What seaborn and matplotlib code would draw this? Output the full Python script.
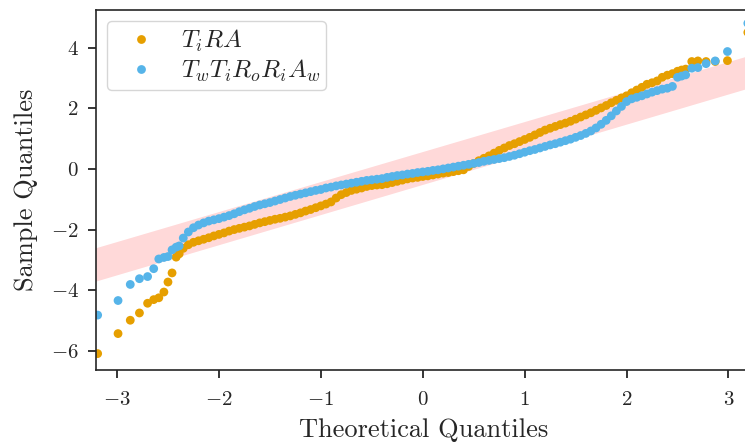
import numpy as np
import pandas as pd
import matplotlib
matplotlib.use("Agg")
import matplotlib.pyplot as plt
import seaborn as sns

# theoretical quantiles (x), shared by both models
theoretical = [
    -3.19, -2.99, -2.87, -2.78, -2.70, -2.64, -2.59, -2.54, -2.50, -2.46, -2.42, -2.39,
    -2.35, -2.30, -2.25, -2.20, -2.15, -2.10, -2.05, -2.00, -1.95, -1.90,
    -1.85, -1.80, -1.75, -1.70, -1.65, -1.60, -1.55, -1.50, -1.45, -1.40,
    -1.35, -1.30, -1.25, -1.20, -1.15, -1.10, -1.05, -1.00, -0.95, -0.90,
    -0.85, -0.80, -0.75, -0.70, -0.65, -0.60, -0.55, -0.50, -0.45, -0.40,
    -0.35, -0.30, -0.25, -0.20, -0.15, -0.10, -0.05, 0.00, 0.05, 0.10,
    0.15, 0.20, 0.25, 0.30, 0.35, 0.40, 0.45, 0.50, 0.55, 0.60,
    0.65, 0.70, 0.75, 0.80, 0.85, 0.90, 0.95, 1.00, 1.05, 1.10,
    1.15, 1.20, 1.25, 1.30, 1.35, 1.40, 1.45, 1.50, 1.55, 1.60,
    1.65, 1.70, 1.75, 1.80, 1.85, 1.90, 1.95, 2.00, 2.05, 2.10,
    2.15, 2.20, 2.25, 2.30, 2.35, 2.40, 2.45,
    2.50, 2.54, 2.58, 2.64, 2.70, 2.78, 2.87, 2.99, 3.19,
]

# sample quantiles, model T_i R A
sample_tira = [
    -6.09, -5.43, -4.99, -4.75, -4.43, -4.31, -4.25, -4.06, -3.73, -3.43, -2.91, -2.80,
    -2.62, -2.50, -2.42, -2.37, -2.32, -2.27, -2.21, -2.16, -2.11, -2.05,
    -2.00, -1.96, -1.92, -1.88, -1.83, -1.78, -1.74, -1.70, -1.66, -1.63,
    -1.59, -1.55, -1.50, -1.45, -1.39, -1.34, -1.28, -1.22, -1.16, -1.09,
    -0.96, -0.85, -0.78, -0.71, -0.67, -0.63, -0.58, -0.55, -0.53, -0.52,
    -0.49, -0.45, -0.41, -0.37, -0.33, -0.30, -0.28, -0.25, -0.23, -0.20,
    -0.17, -0.14, -0.12, -0.09, -0.06, -0.03, 0.08, 0.18, 0.27, 0.35,
    0.43, 0.52, 0.61, 0.69, 0.77, 0.83, 0.90, 0.97, 1.04, 1.12,
    1.20, 1.28, 1.34, 1.40, 1.46, 1.51, 1.57, 1.64, 1.71, 1.78,
    1.85, 1.93, 2.01, 2.09, 2.18, 2.26, 2.34, 2.41, 2.51, 2.60,
    2.69, 2.79, 2.84, 2.90, 3.02, 3.09, 3.14,
    3.22, 3.26, 3.29, 3.54, 3.56, 3.54, 3.54, 3.57, 4.50,
]

# sample quantiles, model T_w T_i R_o R_i A_w
sample_twtiroriaw = [
    -4.82, -4.34, -3.81, -3.62, -3.55, -3.29, -2.97, -2.92, -2.89, -2.67, -2.58, -2.54,
    -2.28, -2.08, -1.94, -1.85, -1.78, -1.72, -1.68, -1.64, -1.59, -1.54,
    -1.48, -1.41, -1.35, -1.30, -1.24, -1.19, -1.15, -1.11, -1.06, -1.01,
    -0.96, -0.91, -0.87, -0.83, -0.79, -0.75, -0.71, -0.68, -0.63, -0.60,
    -0.56, -0.53, -0.50, -0.47, -0.44, -0.41, -0.38, -0.36, -0.34, -0.32,
    -0.28, -0.25, -0.22, -0.20, -0.17, -0.15, -0.12, -0.10, -0.08, -0.05,
    -0.03, 0.00, 0.03, 0.06, 0.09, 0.12, 0.15, 0.18, 0.21, 0.25,
    0.28, 0.31, 0.34, 0.37, 0.41, 0.45, 0.50, 0.55, 0.60, 0.64,
    0.69, 0.74, 0.79, 0.83, 0.88, 0.93, 0.98, 1.04, 1.10, 1.17,
    1.25, 1.35, 1.47, 1.60, 1.75, 1.91, 2.06, 2.22, 2.31, 2.36,
    2.41, 2.47, 2.53, 2.58, 2.63, 2.66, 2.72,
    3.02, 3.06, 3.10, 3.32, 3.34, 3.47, 3.56, 3.87, 4.80,
]

model_names = [r"$T_iRA$", r"$T_wT_iR_oR_iA_w$"]
model_colors = ["#E69F00", "#56B4E9"]

# shaded reference band (edges read at the axes borders)
band_x = [-3.21, 3.22]
band_lower = [-3.70, 2.69]
band_upper = [-2.60, 3.76]

df = pd.DataFrame({
    "theoretical": theoretical * 2,
    "sample": sample_tira + sample_twtiroriaw,
    "model": [model_names[0]] * len(sample_tira) + [model_names[1]] * len(sample_twtiroriaw),
})

sns.set_style("ticks")
plt.rcParams["font.family"] = "serif"
plt.rcParams["font.serif"] = ["cmr10"]
plt.rcParams["mathtext.fontset"] = "cm"
plt.rcParams["axes.formatter.use_mathtext"] = True
plt.rcParams["axes.linewidth"] = 1.2

fig = plt.figure(figsize=(7.45, 4.47), dpi=100)
ax = fig.add_axes([0.1289, 0.1723, 0.879, 0.8054])

ax.fill_between(band_x, band_lower, band_upper, color="red", alpha=0.15, linewidth=0)

sns.scatterplot(
    data=df, x="theoretical", y="sample", hue="model",
    hue_order=model_names, palette=model_colors,
    s=40, linewidth=0, ax=ax,
)

ax.set_xlim(-3.206, 3.22)
ax.set_ylim(-6.63, 5.24)
ax.set_xticks([-3, -2, -1, 0, 1, 2, 3])
ax.set_yticks([-6, -4, -2, 0, 2, 4])
ax.tick_params(labelsize=15, length=6, width=1.1, color="black")
ax.tick_params(axis="x", pad=9)
ax.tick_params(axis="y", pad=6.5)
ax.set_xlabel("Theoretical Quantiles", fontsize=19, labelpad=7)
ax.set_ylabel("Sample Quantiles", fontsize=19, labelpad=9)

sns.move_legend(
    ax, "upper left", title=None, fontsize=18, frameon=True,
    handlelength=2.16, handletextpad=0.52, labelspacing=0.15,
    borderpad=0.25, borderaxespad=0.45,
)

fig.savefig("out.png", dpi=100)
